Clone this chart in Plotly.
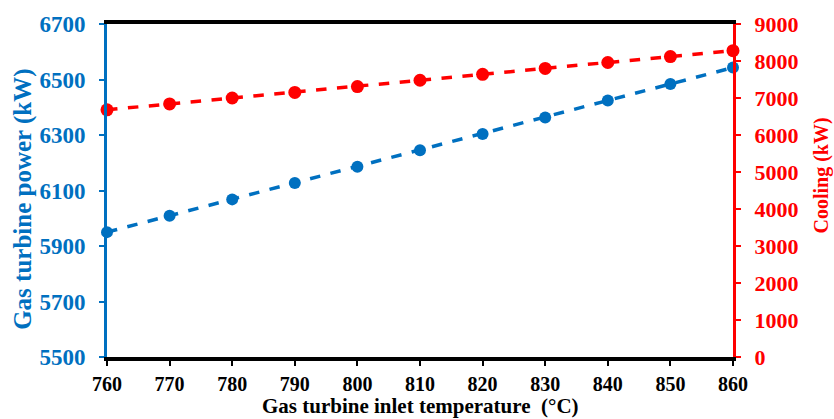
import plotly.graph_objects as go

temps = [760, 770, 780, 790, 800, 810, 820, 830, 840, 850, 860]
gt_power = [5950, 6009, 6068, 6127, 6186, 6245, 6304, 6363, 6424, 6484, 6543]
cooling = [6680, 6840, 7000, 7150, 7310, 7480, 7640, 7800, 7960, 8120, 8280]

BLUE = "#0070C0"
RED = "#FF0000"
FONT = "Liberation Serif"

fig = go.Figure()
fig.add_trace(go.Scatter(x=temps, y=gt_power, mode="lines+markers",
                         line=dict(color=BLUE, width=3.5, dash="dash"),
                         marker=dict(color=BLUE, size=12, symbol="circle"),
                         yaxis="y", showlegend=False, cliponaxis=False))
fig.add_trace(go.Scatter(x=temps, y=cooling, mode="lines+markers",
                         line=dict(color=RED, width=3.5, dash="dash"),
                         marker=dict(color=RED, size=13, symbol="circle"),
                         yaxis="y2", showlegend=False, cliponaxis=False))

fig.update_layout(
    width=834, height=419,
    margin=dict(l=107, r=101, t=21, b=62),
    paper_bgcolor="white", plot_bgcolor="white",
    font=dict(family=FONT, size=18, color="black"),
    xaxis=dict(range=[760, 860], tickvals=temps, showgrid=False, zeroline=False,
               showline=True, linecolor="black", linewidth=4, mirror=True,
               ticks="outside", ticklen=5, tickwidth=1.5, tickcolor="black",
               ticklabelstandoff=1,
               tickfont=dict(family=FONT, size=20, color="black", weight="bold")),
    yaxis=dict(range=[5500, 6700], tickvals=[5500, 5700, 5900, 6100, 6300, 6500, 6700],
               showgrid=False, zeroline=False, showline=True, linecolor=BLUE, linewidth=3,
               ticks="outside", ticklen=5, tickwidth=1.5, tickcolor=BLUE,
               ticklabelstandoff=9,
               tickfont=dict(family=FONT, size=23, color=BLUE, weight="bold")),
    yaxis2=dict(range=[0, 9000], tickvals=list(range(0, 9001, 1000)), overlaying="y", side="right",
                showgrid=False, zeroline=False, showline=True, linecolor=RED, linewidth=3,
                ticks="outside", ticklen=5, tickwidth=1.5, tickcolor=RED,
                ticklabelstandoff=9,
                tickfont=dict(family=FONT, size=22, color=RED, weight="bold")),
    annotations=[
        dict(text="<b>Gas turbine inlet temperature  (°C)</b>", xref="paper", yref="paper",
             x=0.5, y=0, xanchor="center", yanchor="bottom", yshift=-62, showarrow=False,
             borderpad=0, font=dict(family=FONT, size=21, color="black")),
        dict(text="<b>Gas turbine power (kW)</b>", xref="paper", yref="paper",
             x=0, y=0.472, xanchor="center", yanchor="middle", xshift=-84, textangle=-90,
             showarrow=False, font=dict(family=FONT, size=25, color=BLUE)),
        dict(text="<b>Cooling (kW)</b>", xref="paper", yref="paper",
             x=1, y=0.545, xanchor="center", yanchor="middle", xshift=89, textangle=-90,
             showarrow=False, font=dict(family=FONT, size=20, color=RED)),
    ],
)
fig.write_html("out.html")
